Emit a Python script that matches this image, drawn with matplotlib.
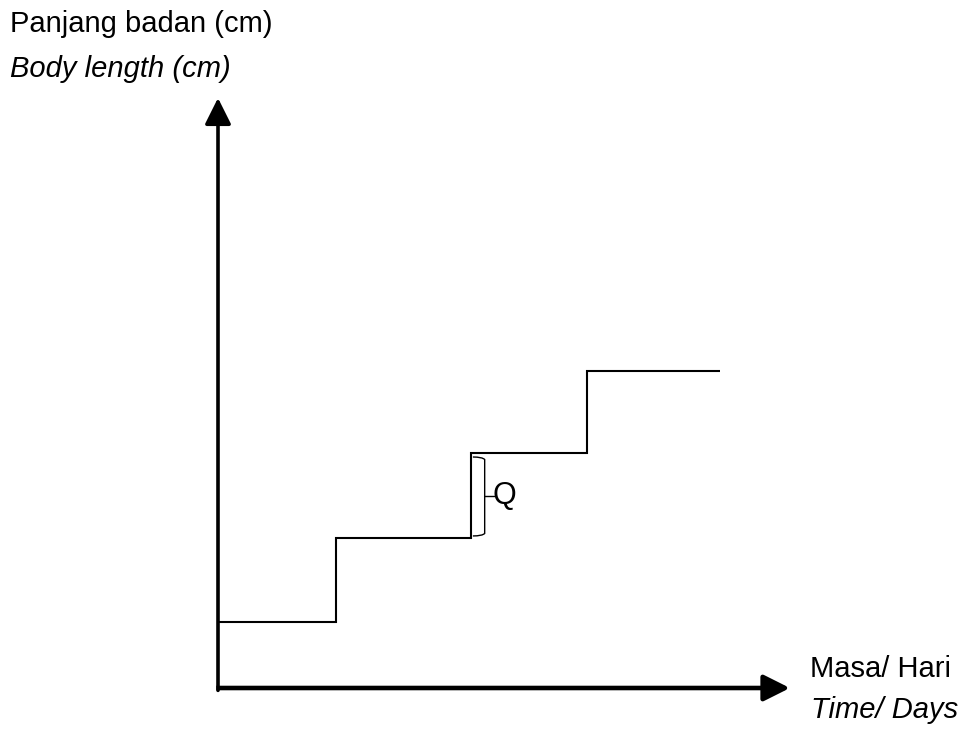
import matplotlib.pyplot as plt
import matplotlib.path as mpath
import matplotlib.patches as mpatches

plt.rcParams['font.family'] = ['Liberation Sans', 'DejaVu Sans']

# step growth data (time in arbitrary units, body length in arbitrary units)
step_edges = [0, 1.0, 2.14, 3.13, 4.25]
body_length = [0.79, 1.79, 2.80, 3.77]

y_label = "Panjang badan (cm)"
y_label_en = "Body length (cm)"
x_label = "Masa/ Hari"
x_label_en = "Time/ Days"

fig = plt.figure(figsize=(9.66, 7.38), dpi=100)
W, H = 966, 738
ax = fig.add_axes([218 / W, 50 / H, (790 - 218) / W, (688 - 98) / H])
ax.set_xlim(0, (790 - 218) / 118)
ax.set_ylim(0, (688 - 98) / 84)
ax.axis('off')

# staircase
ax.stairs(body_length, step_edges, baseline=None, color='black', lw=1.5)

# axes with arrows
ax.annotate('', xy=(0, 1), xytext=(0, -0.004), xycoords='axes fraction',
            arrowprops=dict(arrowstyle='-|>,head_length=0.8,head_width=0.4',
                            mutation_scale=20, color='black', lw=2.6,
                            shrinkA=0, shrinkB=0))
ax.annotate('', xy=(1, 0), xytext=(-0.003, 0), xycoords='axes fraction',
            arrowprops=dict(arrowstyle='-|>,head_length=0.8,head_width=0.4',
                            mutation_scale=20, color='black', lw=3.3,
                            shrinkA=0, shrinkB=0, capstyle='butt'))

# bracket marking Q
bx, bl, bt = 2.26, 2.16, 2.34
y0, y1 = 1.84, 2.72
ym = (y0 + y1) / 2
verts = [(bl, y1 + 0.03), (bx - 0.02, y1 + 0.03), (bx, y1), (bx, ym),
         (bx, y0), (bx - 0.02, y0 - 0.03), (bl, y0 - 0.03)]
codes = [mpath.Path.MOVETO, mpath.Path.CURVE3, mpath.Path.CURVE3,
         mpath.Path.LINETO, mpath.Path.LINETO, mpath.Path.CURVE3, mpath.Path.CURVE3]
ax.add_patch(mpatches.PathPatch(mpath.Path(verts, codes), fill=False, lw=1.0, color='black'))
ax.plot([bx, bt], [ym, ym], color='black', lw=1.0)
ax.text(bt - 0.01, ym, 'Q', fontsize=22, va='center', ha='left')

# labels
fig.text(10 / W, 1 - 32 / H, y_label, fontsize=21, va='baseline', ha='left')
fig.text(10 / W, 1 - 77 / H, y_label_en, fontsize=21, style='italic', va='baseline', ha='left')
fig.text(810 / W, 1 - 677 / H, x_label, fontsize=21, va='baseline', ha='left')
fig.text(811 / W, 1 - 718 / H, x_label_en, fontsize=21, style='italic', va='baseline', ha='left')

fig.savefig('out.png', dpi=100)
